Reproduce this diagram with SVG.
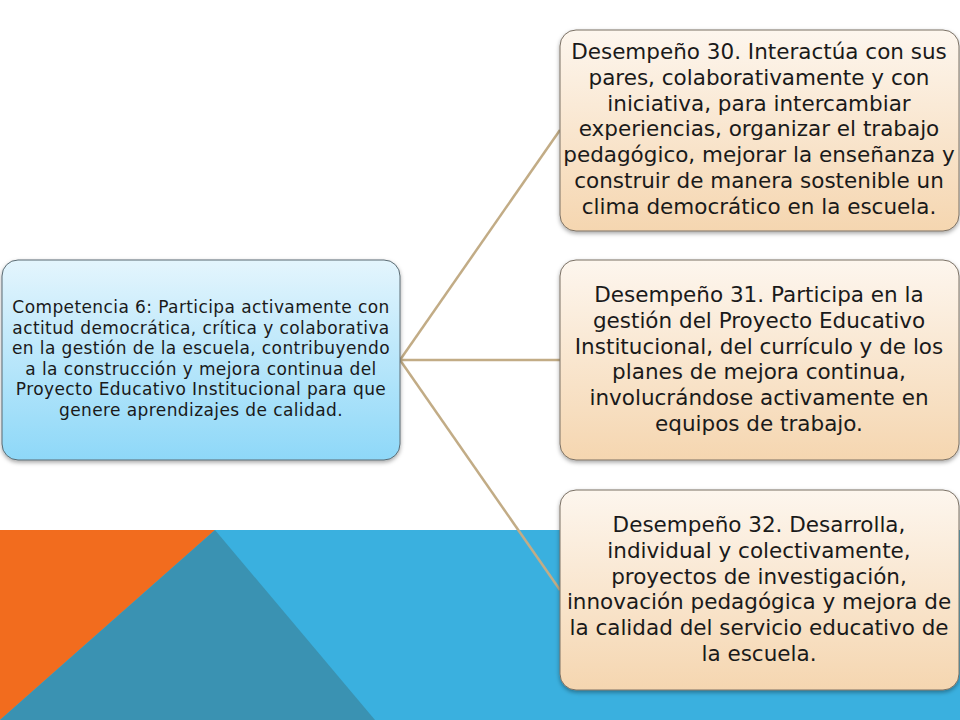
<svg xmlns="http://www.w3.org/2000/svg" width="960" height="720" viewBox="0 0 960 720">
<style>
.t{font-family:"DejaVu Sans","Liberation Sans",sans-serif;fill:#1a1a1a;text-anchor:middle}
.big{font-size:21.5px}
.small{font-size:17px;letter-spacing:0.4px}
.conn{stroke:#C2AC86;stroke-width:2.5;fill:none}
.boxb{fill:url(#gb);stroke:#5a6b73;stroke-width:1}
.boxp{fill:url(#gp);stroke:#7a7064;stroke-width:1}
</style>
<defs>
<linearGradient id="gb" x1="0" y1="0" x2="0" y2="1">
<stop offset="0" stop-color="#E4F5FD"/>
<stop offset="1" stop-color="#8ED8F8"/>
</linearGradient>
<linearGradient id="gp" x1="0" y1="0" x2="0" y2="1">
<stop offset="0" stop-color="#FDF6EE"/>
<stop offset="1" stop-color="#F5D6B0"/>
</linearGradient>
<filter id="sh" x="-5%" y="-5%" width="110%" height="115%">
<feDropShadow dx="0" dy="2" stdDeviation="2" flood-color="#000" flood-opacity="0.35"/>
</filter>
</defs>
<rect width="960" height="720" fill="#ffffff"/>
<g id="background">
<rect x="0" y="530" width="960" height="190" fill="#3AB0DF"/>
<polygon points="0,530 215,530 0,720" fill="#F26C1E"/>
<polygon points="215,530 375,720 0,720" fill="#3A92B2"/>
</g>
<g id="connectors">
<line class="conn" x1="400" y1="360" x2="560" y2="130"/>
<line class="conn" x1="400" y1="360" x2="560" y2="360"/>
<line class="conn" x1="400" y1="360" x2="560" y2="590"/>
</g>
<g id="competencia6">
<rect class="boxb" x="2" y="260" width="398" height="200" rx="16" filter="url(#sh)"/>
<text class="t small" x="201" y="313">Competencia 6: Participa activamente con</text>
<text class="t small" x="201" y="333.5">actitud democrática, crítica y colaborativa</text>
<text class="t small" x="201" y="354">en la gestión de la escuela, contribuyendo</text>
<text class="t small" x="201" y="374.5">a la construcción y mejora continua del</text>
<text class="t small" x="201" y="395">Proyecto Educativo Institucional para que</text>
<text class="t small" x="201" y="415.5">genere aprendizajes de calidad.</text>
</g>
<g id="desempeno30">
<rect class="boxp" x="560" y="30" width="399" height="201" rx="16" filter="url(#sh)"/>
<text class="t big" x="759" y="59">Desempeño 30. Interactúa con sus</text>
<text class="t big" x="759" y="84.8">pares, colaborativamente y con</text>
<text class="t big" x="759" y="110.6">iniciativa, para intercambiar</text>
<text class="t big" x="759" y="136.4">experiencias, organizar el trabajo</text>
<text class="t big" x="759" y="162.2">pedagógico, mejorar la enseñanza y</text>
<text class="t big" x="759" y="188">construir de manera sostenible un</text>
<text class="t big" x="759" y="213.8">clima democrático en la escuela.</text>
</g>
<g id="desempeno31">
<rect class="boxp" x="560" y="260" width="399" height="200" rx="16" filter="url(#sh)"/>
<text class="t big" x="759" y="302">Desempeño 31. Participa en la</text>
<text class="t big" x="759" y="327.8">gestión del Proyecto Educativo</text>
<text class="t big" x="759" y="353.6">Institucional, del currículo y de los</text>
<text class="t big" x="759" y="379.4">planes de mejora continua,</text>
<text class="t big" x="759" y="405.2">involucrándose activamente en</text>
<text class="t big" x="759" y="431">equipos de trabajo.</text>
</g>
<g id="desempeno32">
<rect class="boxp" x="560" y="490" width="399" height="200" rx="16" filter="url(#sh)"/>
<text class="t big" x="759" y="532">Desempeño 32. Desarrolla,</text>
<text class="t big" x="759" y="557.8">individual y colectivamente,</text>
<text class="t big" x="759" y="583.6">proyectos de investigación,</text>
<text class="t big" x="759" y="609.4">innovación pedagógica y mejora de</text>
<text class="t big" x="759" y="635.2">la calidad del servicio educativo de</text>
<text class="t big" x="759" y="661">la escuela.</text>
</g>
</svg>
